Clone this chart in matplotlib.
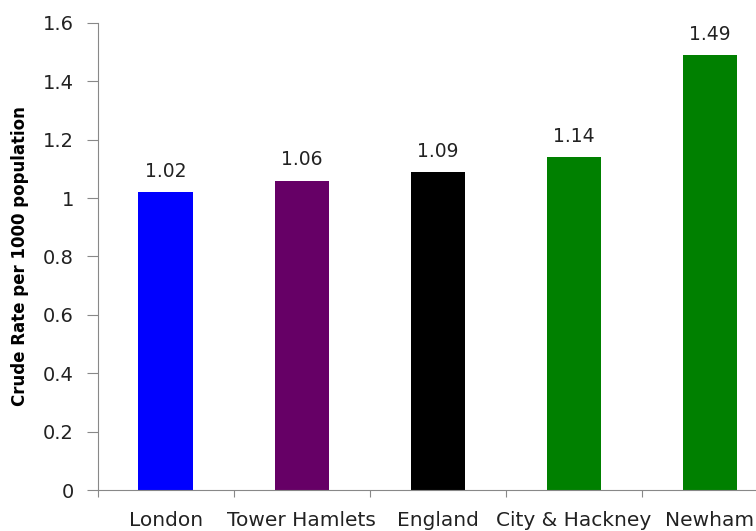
import matplotlib.pyplot as plt

areas = ['London', 'Tower Hamlets', 'England', 'City & Hackney', 'Newham']
rates = [1.02, 1.06, 1.09, 1.14, 1.49]
colors = ['#0000ff', '#660066', '#000000', '#008000', '#008000']
yticks = [0, 0.2, 0.4, 0.6, 0.8, 1, 1.2, 1.4, 1.6]
ytick_labels = ['0', '0.2', '0.4', '0.6', '0.8', '1', '1.2', '1.4', '1.6']

plt.rcParams['font.family'] = ['DejaVu Sans']

fig = plt.figure(figsize=(7.56, 5.31), dpi=100)
ax = fig.add_axes([0.1292, 0.0772, 0.9, 0.8795])

x = range(len(areas))
bars = ax.bar(x, rates, width=0.4, color=colors)

for b, r in zip(bars, rates):
    ax.annotate(f'{r:.2f}', (b.get_x() + b.get_width() / 2, r),
                xytext=(0, 8), textcoords='offset points',
                ha='center', va='bottom', fontsize=13.5, color='#222222')

ax.set_xlim(-0.5, 4.5)
ax.set_ylim(0, 1.6)
ax.set_yticks(yticks)
ax.set_yticklabels(ytick_labels, fontsize=14, color='#222222')
# category boundaries get the tick marks, names sit in between
ax.set_xticks([i - 0.5 for i in range(5)])
ax.set_xticklabels([])
ax.set_xticks(list(x), minor=True)
ax.set_xticklabels(areas, minor=True, fontsize=14.5, color='#222222')
ax.tick_params(axis='x', which='major', length=5, color='#888888')
ax.tick_params(axis='x', which='minor', length=0, pad=15)
ax.tick_params(axis='y', length=8, color='#888888', pad=9)

for s in ['top', 'right']:
    ax.spines[s].set_visible(False)
for s in ['left', 'bottom']:
    ax.spines[s].set_color('#888888')

ax.set_ylabel('Crude Rate per 1000 population', fontsize=12, fontweight='bold', labelpad=10)

fig.savefig('out.png', dpi=100)
